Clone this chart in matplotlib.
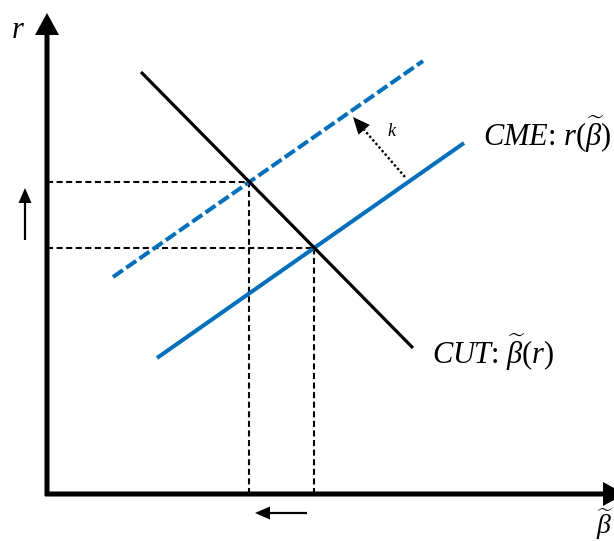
import numpy as np
import matplotlib
matplotlib.use("Agg")
import matplotlib.pyplot as plt

plt.rcParams['font.family'] = 'Liberation Serif'
plt.rcParams['mathtext.fontset'] = 'custom'
plt.rcParams['mathtext.rm'] = 'Liberation Serif'
plt.rcParams['mathtext.it'] = 'Liberation Serif:italic'
plt.rcParams['mathtext.bf'] = 'Liberation Serif:bold'

# Curve endpoints: beta-tilde on the horizontal axis, r on the vertical axis
cut_beta = [94, 366]
cut_r = [422, 146]
cme_beta = [110, 417]
cme_r = [136, 351]
cme_shift_beta = [66, 376]
cme_shift_r = [217, 433]

# Shift arrow (k) from the original CME toward the shifted one
k_start = (358, 317)
k_tip = (306, 377)

BLUE = '#0070C0'


def intersect(xa, ya, xb, yb):
    """Crossing point of two straight segments (extended)."""
    a1 = (ya[1] - ya[0]) / (xa[1] - xa[0])
    b1 = ya[0] - a1 * xa[0]
    a2 = (yb[1] - yb[0]) / (xb[1] - xb[0])
    b2 = yb[0] - a2 * xb[0]
    x = (b2 - b1) / (a1 - a2)
    return x, a1 * x + b1


fig = plt.figure(figsize=(6.14, 5.41), dpi=100)
ax = fig.add_axes([0, 0, 1, 1])
ax.set_xlim(-47, 567)
ax.set_ylim(-47, 494)
ax.axis('off')

# Equilibria
eq0 = intersect(cut_beta, cut_r, cme_beta, cme_r)
eq1 = intersect(cut_beta, cut_r, cme_shift_beta, cme_shift_r)

# Dashed guide lines to the axes
for bx, ry in (eq0, eq1):
    ax.plot([0, bx], [ry, ry], color='black', lw=1.5, dashes=(2.9, 1.7),
            dash_capstyle='butt', zorder=1)
    ax.plot([bx, bx], [0, ry], color='black', lw=1.5, dashes=(2.9, 1.7),
            dash_capstyle='butt', zorder=1)

# Curves
ax.plot(cme_beta, cme_r, color=BLUE, lw=2.9, solid_capstyle='butt', zorder=2)
ax.plot(cme_shift_beta, cme_shift_r, color=BLUE, lw=2.9, dashes=(3, 1),
        dash_capstyle='butt', zorder=2)
ax.plot(cut_beta, cut_r, color='black', lw=2.3, solid_capstyle='butt', zorder=3)

# Axes with arrowheads
ax.arrow(0, -2, 0, 483, width=5, head_width=24, head_length=22,
         length_includes_head=True, fc='black', ec='none', zorder=4)
ax.arrow(-2, 0, 580, 0, width=5, head_width=24, head_length=22,
         length_includes_head=True, fc='black', ec='none', zorder=4)

# Direction arrows: r rises, beta-tilde falls
ax.arrow(-22, 254, 0, 52, width=2.2, head_width=13, head_length=15,
         length_includes_head=True, fc='black', ec='none')
ax.arrow(260, -19, -52, 0, width=2.2, head_width=13, head_length=15,
         length_includes_head=True, fc='black', ec='none')

# Dotted shift arrow labelled k
d = np.array(k_tip) - np.array(k_start)
u = d / np.hypot(*d)
hl = 17
base = np.array(k_tip) - u * hl
ax.plot([k_start[0], base[0]], [k_start[1], base[1]], color='black', lw=1.7,
        dashes=(1, 1), dash_capstyle='butt')
ax.arrow(base[0], base[1], u[0] * hl, u[1] * hl, width=0.1, head_width=15,
         head_length=hl, length_includes_head=True, fc='black', ec='none')
ax.text(345, 362, r'$k$', fontsize=13, ha='center', va='center')

# Labels
ax.text(436, 359, r'$CME$: $r(\widetilde{\beta})$', fontsize=22,
        ha='left', va='center')
ax.text(385, 141, r'$CUT$: $\widetilde{\beta}(r)$', fontsize=22,
        ha='left', va='center')
ax.text(-29, 464, r'$r$', fontsize=22, ha='center', va='center')
ax.text(549, -30, r'$\widetilde{\beta}$', fontsize=20, ha='left', va='center')

fig.savefig('out.png', dpi=100)
